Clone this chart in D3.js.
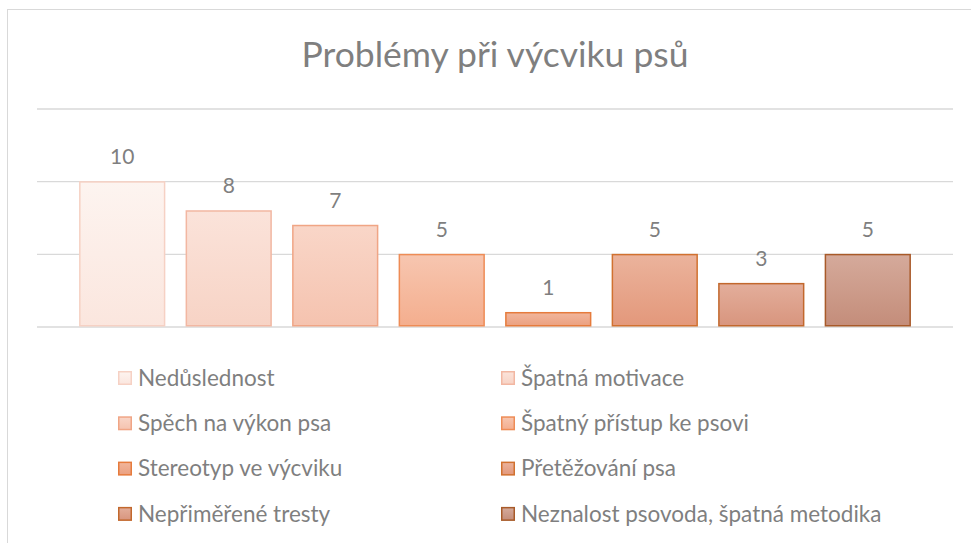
<!DOCTYPE html>
<html>
<head>
<meta charset="utf-8">
<script src="https://cdn.jsdelivr.net/npm/d3@7"></script>
<style>
    body { margin: 0; background: #ffffff; }
    #chart text { font-family: Lato, "Open Sans", sans-serif; fill: #7f7f7f; }
    .grid line { stroke: #d9d9d9; stroke-width: 1.3; }
    .grid path { display: none; }
</style>
</head>
<body>
<div id="chart"></div>
<script>
    var chartTitle = "Problémy při výcviku psů";
    var categories = ["Nedůslednost", "Špatná motivace", "Spěch na výkon psa", "Špatný přístup ke psovi",
        "Stereotyp ve výcviku", "Přetěžování psa", "Nepřiměřené tresty", "Neznalost psovoda, špatná metodika"];
    var values = [10, 8, 7, 5, 1, 5, 3, 5];
    var gridTicks = [0, 5, 10, 15];

    // gradient top / bottom + border per bar
    var fillTop = ["#fdf4f0", "#fbe3da", "#f9d6c8", "#f7c6b0", "#f1b69c", "#ebb39c", "#e3ae9b", "#d5aa9b"];
    var fillBottom = ["#fbe6de", "#f7d3c5", "#f5c3af", "#f4ae8e", "#eba080", "#e3987b", "#d8957e", "#c48d7a"];
    var strokes = ["#f6d1c4", "#f2b7a2", "#f0a585", "#ee8c56", "#e67b3c", "#d1712f", "#c2682d", "#a85a29"];

    var width = 971, height = 543;
    var plot = {left: 37, right: 953, top: 108.5, bottom: 326.5};

    var svg = d3.select("#chart").append("svg")
            .attr("width", width)
            .attr("height", height);

    var defs = svg.append("defs");
    defs.selectAll("linearGradient")
            .data(categories)
            .enter().append("linearGradient")
            .attr("id", function(d, i) { return "grad" + i; })
            .attr("x1", 0).attr("y1", 0).attr("x2", 0).attr("y2", 1)
            .each(function(d, i) {
                var g = d3.select(this);
                g.append("stop").attr("offset", "0%").attr("stop-color", fillTop[i]);
                g.append("stop").attr("offset", "100%").attr("stop-color", fillBottom[i]);
            });

    // chart frame (right / bottom edges are outside the window)
    svg.append("rect")
            .attr("x", 7.5)
            .attr("y", 9.5)
            .attr("width", 1000)
            .attr("height", 600)
            .attr("fill", "none")
            .attr("stroke", "#d9d9d9")
            .attr("stroke-width", 1);

    svg.append("text")
            .attr("x", 495)
            .attr("y", 67)
            .attr("text-anchor", "middle")
            .style("font-size", "35.5px")
            .text(chartTitle);

    var x = d3.scaleBand()
            .domain(categories)
            .range([plot.left, plot.right])
            .paddingInner(0.19)
            .paddingOuter(0.395);

    var y = d3.scaleLinear()
            .domain([0, 15])
            .range([plot.bottom, plot.top]);

    // gridlines
    svg.append("g")
            .attr("class", "grid")
            .attr("transform", "translate(" + plot.left + ",0)")
            .call(d3.axisLeft(y)
                    .tickValues(gridTicks)
                    .tickSize(-(plot.right - plot.left))
                    .tickFormat(""));

    var bars = svg.selectAll(".bar")
            .data(values)
            .enter().append("g")
            .attr("class", "bar");

    bars.append("rect")
            .attr("x", function(d, i) { return x(categories[i]) + 0.75; })
            .attr("y", function(d) { return y(d) + 0.75; })
            .attr("width", x.bandwidth() - 1.5)
            .attr("height", function(d) { return y(0) - y(d) - 1.5; })
            .attr("fill", function(d, i) { return "url(#grad" + i + ")"; })
            .attr("stroke", function(d, i) { return strokes[i]; })
            .attr("stroke-width", 1.5);

    bars.append("text")
            .attr("x", function(d, i) { return x(categories[i]) + x.bandwidth() / 2; })
            .attr("y", function(d) { return y(d) - 17; })
            .attr("text-anchor", "middle")
            .style("font-size", "21px")
            .text(function(d) { return d; });

    // legend, two columns
    var legend = svg.selectAll(".legend")
            .data(categories)
            .enter().append("g")
            .attr("class", "legend")
            .attr("transform", function(d, i) {
                return "translate(" + (i % 2 === 0 ? 118 : 501) + "," + (378 + Math.floor(i / 2) * 45.3) + ")";
            });

    legend.append("rect")
            .attr("x", 0.75)
            .attr("y", -6.25)
            .attr("width", 12.5)
            .attr("height", 12.5)
            .attr("fill", function(d, i) { return "url(#grad" + i + ")"; })
            .attr("stroke", function(d, i) { return strokes[i]; })
            .attr("stroke-width", 1.5);

    legend.append("text")
            .attr("x", 20)
            .attr("y", 0)
            .attr("dy", "0.35em")
            .style("font-size", "22.5px")
            .text(function(d) { return d; });
</script>
</body>
</html>
